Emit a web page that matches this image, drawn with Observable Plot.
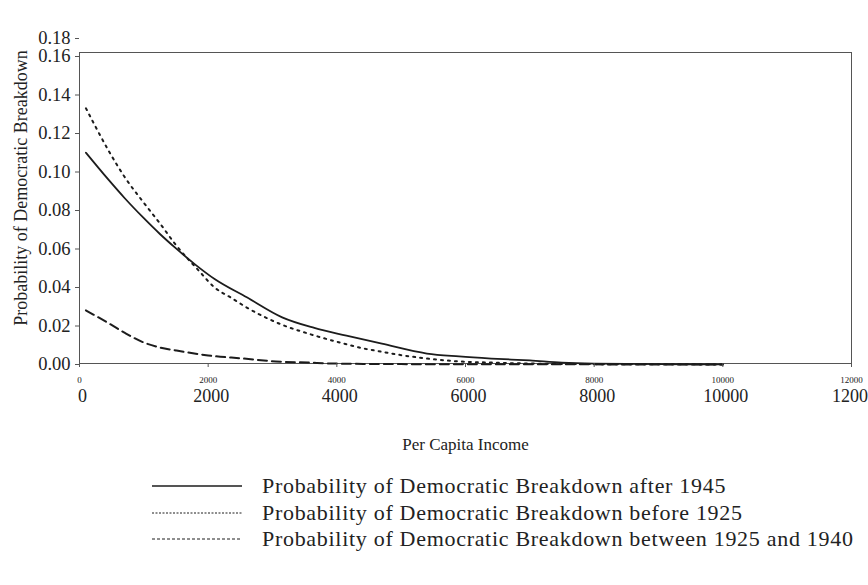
<!DOCTYPE html>
<html><head><meta charset="utf-8">
<script src="https://cdn.jsdelivr.net/npm/d3@7"></script>
<script src="https://cdn.jsdelivr.net/npm/@observablehq/plot@0.6"></script>
<style>
body{margin:0;background:#fff;font-family:"Liberation Serif",serif;color:#222}
#wrap{position:relative;width:868px;height:585px;overflow:hidden;background:#fff}
#legend{position:absolute;left:152px;top:473px}
.row{display:flex;align-items:center;height:26.5px}
.row span{font-size:22px;letter-spacing:0.7px;margin-left:20px;white-space:nowrap;color:#222}
</style></head><body><div id="wrap"><div id="chart"></div><div id="legend"></div></div>
<script>
// Per capita income (x) and probability of democratic breakdown (y)
const incomeAfter1945 = [100, 450, 700, 1000, 1250, 1500, 1800, 2100, 2600, 3150, 3650, 4150, 4700, 5400, 5900, 6400, 7000, 7500, 8000, 9000, 10000];
const probAfter1945   = [0.1100, 0.0960, 0.0865, 0.0760, 0.0678, 0.0603, 0.0519, 0.0444, 0.0349, 0.0245, 0.0190, 0.0150, 0.0108, 0.0057, 0.0042, 0.0031, 0.0021, 0.0010, 0.0005, 0.0002, 0.0001];

const incomeBefore1925 = [100, 250, 450, 700, 1000, 1250, 1500, 1850, 2100, 2350, 2600, 3100, 3650, 4150, 4350, 4700, 4900, 5400, 5900, 6400, 7000, 8000, 10000];
const probBefore1925   = [0.1331, 0.1235, 0.1112, 0.0975, 0.0840, 0.0733, 0.0620, 0.0489, 0.0400, 0.0348, 0.0296, 0.0213, 0.0151, 0.0105, 0.0088, 0.0066, 0.0054, 0.0031, 0.0016, 0.0010, 0.0005, 0.0002, 0.00005];

const income1925to1940 = [100, 450, 700, 1000, 1250, 1500, 2000, 2550, 3050, 3550, 3950, 5000, 7000, 10000];
const prob1925to1940   = [0.0281, 0.0215, 0.0165, 0.0114, 0.0088, 0.0073, 0.0047, 0.0031, 0.0016, 0.0010, 0.0005, 0.0002, 0.0001, 0.00002];

const seriesNames = [
  "Probability of Democratic Breakdown after 1945",
  "Probability of Democratic Breakdown before 1925",
  "Probability of Democratic Breakdown between 1925 and 1940"
];
const xLabel = "Per Capita Income";
const yLabel = "Probability of Democratic Breakdown";

const xTicks = [0, 2000, 4000, 6000, 8000, 10000, 12000];
const yTicks = [0, 0.02, 0.04, 0.06, 0.08, 0.10, 0.12, 0.14, 0.16, 0.18];

const rows = (xs, ys) => xs.map((x, i) => ({income: x, prob: ys[i]}));
const after = rows(incomeAfter1945, probAfter1945);
const before = rows(incomeBefore1925, probBefore1925);
const between = rows(income1925to1940, prob1925to1940);

const ink = "#1c1c1c";
const chart = Plot.plot({
  width: 868,
  height: 465,
  marginLeft: 79,
  marginRight: 17,
  marginTop: 52,
  marginBottom: 102,
  style: {fontFamily: "'Liberation Serif', serif", color: "#222", background: "#fff"},
  x: {type: "linear", domain: [0, 12000]},
  y: {type: "linear", domain: [0, 0.16, 0.18], range: [364, 56, 38]},
  marks: [
    Plot.frame({stroke: "#555", strokeWidth: 1}),
    Plot.line(between, {x: "income", y: "prob", stroke: ink, strokeWidth: 2, strokeDasharray: "9,5", curve: "monotone-x"}),
    Plot.line(before, {x: "income", y: "prob", stroke: ink, strokeWidth: 2, strokeDasharray: "2,5", curve: "monotone-x"}),
    Plot.line(after, {x: "income", y: "prob", stroke: ink, strokeWidth: 1.8, curve: "monotone-x"}),
    Plot.axisY({ticks: yTicks, tickFormat: d3.format(".2f"), tickSize: 4, tickPadding: 5, fontSize: 18.5, label: null, stroke: "#555"}),
    Plot.text([yLabel], {text: d => d, frameAnchor: "left", textAnchor: "middle", rotate: -90, dx: -58, dy: -20, fontSize: 18, lineAnchor: "middle", fill: "#222"}),
    Plot.axisX({ticks: xTicks, tickSize: 4, tickPadding: 9, fontSize: 9, tickFormat: d => String(d), label: null, stroke: "#555"}),
    Plot.axisX({ticks: xTicks, tickSize: 0, tickPadding: 26, fontSize: 18, dx: 3, tickFormat: d => String(d), label: null}),
    Plot.axisX({ticks: [], label: xLabel, labelAnchor: "center", labelArrow: "none", labelOffset: 86, fontSize: 17})
  ]
});
document.getElementById("chart").appendChild(chart);

const dashes = [null, "2,1.5", "3,2"];
const legend = document.getElementById("legend");
seriesNames.forEach((name, i) => {
  const row = document.createElement("div");
  row.className = "row";
  const svg = d3.create("svg").attr("width", 90).attr("height", 10);
  svg.append("line").attr("x1", 0).attr("x2", 90).attr("y1", 5).attr("y2", 5)
    .attr("stroke", ink).attr("stroke-width", i === 0 ? 1.3 : 1)
    .attr("stroke-dasharray", dashes[i]);
  row.appendChild(svg.node());
  const span = document.createElement("span");
  span.textContent = name;
  row.appendChild(span);
  legend.appendChild(row);
});
</script></body></html>
